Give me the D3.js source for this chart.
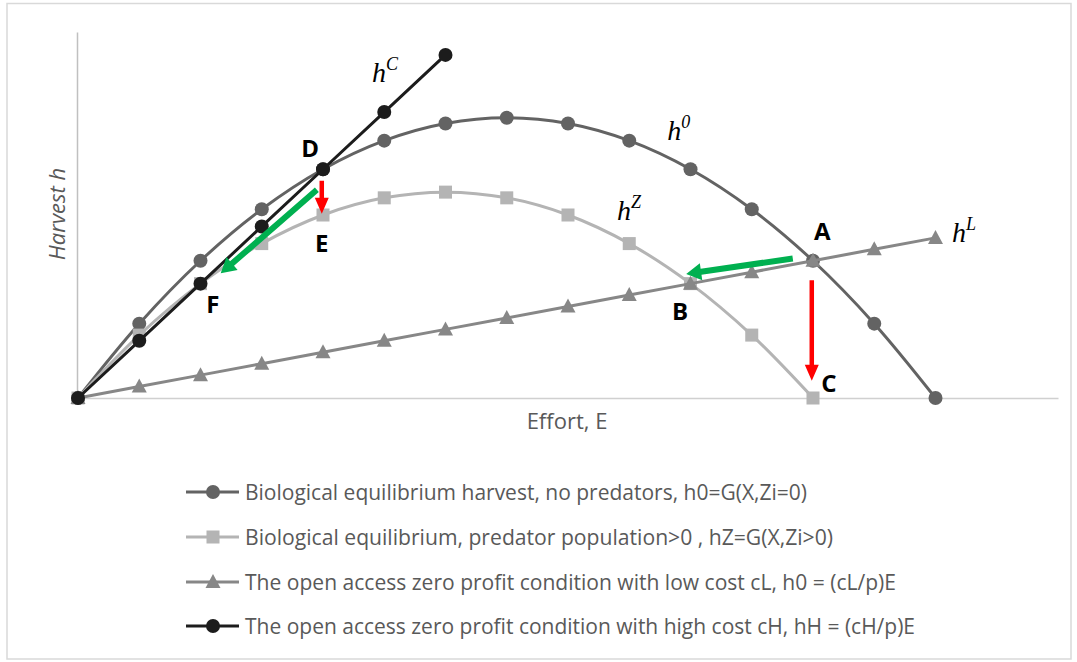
<!DOCTYPE html>
<html>
<head>
<meta charset="utf-8">
<script src="https://cdn.jsdelivr.net/npm/d3@7"></script>
<style>
  html, body { margin: 0; padding: 0; background: #fff; }
  svg { display: block; }
</style>
</head>
<body>
<svg id="chart" width="1077" height="662"></svg>
<script>
// ---------------- data ----------------
const effortMax = 16;
const h0Effort = [0,1,2,3,4,5,6,7,8,9,10,11,12,13,14];
const h0Values = [0,13,24,33,40,45,48,49,48,45,40,33,24,13,0];
const hZEffort = [0,1,2,3,4,5,6,7,8,9,10,11,12];
const hZValues = [0,11,20,27,32,35,36,35,32,27,20,11,0];
const hLEffort = [0,1,2,3,4,5,6,7,8,9,10,11,12,13,14];
const hLValues = [0,2,4,6,8,10,12,14,16,18,20,22,24,26,28];
const hCEffort = [0,1,2,3,4,5,6];
const hCValues = [0,10,20,30,40,50,60];
const yMax = 64;

const legendLabels = [
  "Biological equilibrium harvest, no predators, h0=G(X,Zi=0)",
  "Biological equilibrium,  predator population>0 , hZ=G(X,Zi>0)",
  "The open access zero profit condition with low cost cL, h0 = (cL/p)E",
  "The open access zero profit condition with high cost cH, hH = (cH/p)E"
];
const xTitle = "Effort, E";
const yTitle = "Harvest h";

// point labels [text, E, h]
const pointLabels = [
  ["D", 3.79, 43.7], ["E", 3.98, 27.1], ["F", 2.20, 16.3],
  ["A", 12.15, 29.2], ["B", 9.83, 15.2], ["C", 12.26, 2.6]
];
// curve labels [base, sup, E, h]
const curveLabels = [
  ["h", "C", 4.80, 55.3], ["h", "0", 9.62, 45.1],
  ["h", "Z", 8.80, 31.1], ["h", "L", 14.27, 27.3]
];
// arrows [E0, h0, E1, h1, kind]
const arrows = [
  [11.67, 24.4, 9.93, 21.7, "green"],
  [3.90, 36.4, 2.33, 21.8, "green"],
  [3.98, 38.0, 3.98, 32.2, "red"],
  [11.98, 20.6, 11.98, 3.0, "red"]
];

// ---------------- layout ----------------
const svg = d3.select("#chart");
const x = d3.scaleLinear().domain([0, effortMax]).range([78, 1058]);
const y = d3.scaleLinear().domain([0, yMax]).range([398, 32]);

// outer border
svg.append("rect").attr("x", 7).attr("y", 3.5).attr("width", 1064).attr("height", 655.5)
  .attr("fill", "#fff").attr("stroke", "#d9d9d9").attr("stroke-width", 1.5);

// axes
const xAxis = d3.axisBottom(x).tickValues([]).tickSize(0).tickSizeOuter(0);
svg.append("g").attr("transform", `translate(0,${y(0)})`).call(xAxis)
  .select(".domain").attr("stroke", "#d0d0d0").attr("stroke-width", 1.5);
const yAxis = d3.axisLeft(y).tickValues([]).tickSize(0).tickSizeOuter(0);
svg.append("g").attr("transform", `translate(${x(0) - 1},0)`).call(yAxis)
  .select(".domain").attr("stroke", "#c0c0c0").attr("stroke-width", 1.5);

svg.append("text").attr("x", 567).attr("y", 429).attr("text-anchor", "middle")
  .attr("font-family", "'Open Sans', sans-serif").attr("font-size", 22)
  .attr("fill", "#595959").text(xTitle);
svg.append("text").attr("transform", "translate(65,214) rotate(-90)").attr("text-anchor", "middle")
  .attr("font-family", "'Open Sans', sans-serif").attr("font-size", 22)
  .attr("font-style", "italic").attr("fill", "#595959").text(yTitle);

// series
const series = [
  { E: h0Effort, v: h0Values, color: "#636363", marker: "circle", curve: d3.curveCatmullRom.alpha(0.5), w: 3 },
  { E: hZEffort, v: hZValues, color: "#b4b4b4", marker: "square", curve: d3.curveCatmullRom.alpha(0.5), w: 3 },
  { E: hLEffort, v: hLValues, color: "#878787", marker: "triangle", curve: d3.curveLinear, w: 3 },
  { E: hCEffort, v: hCValues, color: "#1c1c1c", marker: "circle", curve: d3.curveLinear, w: 3 }
];

function drawMarker(g, type, cx, cy, color) {
  if (type === "circle") {
    g.append("circle").attr("cx", cx).attr("cy", cy).attr("r", 7).attr("fill", color);
  } else if (type === "square") {
    g.append("rect").attr("x", cx - 6.5).attr("y", cy - 6.5).attr("width", 13).attr("height", 13).attr("fill", color);
  } else {
    g.append("path").attr("d", `M${cx},${cy - 8}L${cx + 7.5},${cy + 6}L${cx - 7.5},${cy + 6}Z`).attr("fill", color);
  }
}

series.forEach(s => {
  const pts = s.E.map((e, i) => [x(e), y(s.v[i])]);
  svg.append("path").attr("d", d3.line().curve(s.curve)(pts))
    .attr("fill", "none").attr("stroke", s.color).attr("stroke-width", s.w)
    .attr("stroke-linejoin", "round").attr("stroke-linecap", "round");
  const g = svg.append("g");
  pts.forEach(p => drawMarker(g, s.marker, p[0], p[1], s.color));
});

// arrows
function arrowPath(x0, y0, x1, y1, shaft, headW, headL) {
  const dx = x1 - x0, dy = y1 - y0, L = Math.hypot(dx, dy);
  const ux = dx / L, uy = dy / L, nx = -uy, ny = ux;
  const bx = x1 - ux * headL, by = y1 - uy * headL;
  const pts = [
    [x0 + nx * shaft / 2, y0 + ny * shaft / 2],
    [bx + nx * shaft / 2, by + ny * shaft / 2],
    [bx + nx * headW / 2, by + ny * headW / 2],
    [x1, y1],
    [bx - nx * headW / 2, by - ny * headW / 2],
    [bx - nx * shaft / 2, by - ny * shaft / 2],
    [x0 - nx * shaft / 2, y0 - ny * shaft / 2]
  ];
  return "M" + pts.map(p => p.join(",")).join("L") + "Z";
}
arrows.forEach(a => {
  const green = a[4] === "green";
  svg.append("path")
    .attr("d", arrowPath(x(a[0]), y(a[1]), x(a[2]), y(a[3]), green ? 6 : 4.5, green ? 17 : 14, green ? 15 : 16))
    .attr("fill", green ? "#00b050" : "#ff0000");
});

// point labels
pointLabels.forEach(l => {
  svg.append("text").attr("x", x(l[1])).attr("y", y(l[2])).attr("dy", "0.36em")
    .attr("text-anchor", "middle").attr("font-family", "'Open Sans', sans-serif")
    .attr("font-weight", "bold").attr("font-size", 24).attr("fill", "#000").text(l[0]);
});

// curve labels
curveLabels.forEach(l => {
  const t = svg.append("text").attr("x", x(l[2])).attr("y", y(l[3]))
    .attr("font-family", "'Liberation Serif', 'Times New Roman', serif")
    .attr("font-style", "italic").attr("font-size", 28).attr("fill", "#000");
  t.append("tspan").text(l[0]);
  t.append("tspan").attr("dy", -12).attr("font-size", 18).text(l[1]);
});

// legend
const legendY = [492, 537, 582, 626];
const legendEnd = [807, 833, 896, 915];
legendLabels.forEach((lab, i) => {
  const s = series[i];
  const g = svg.append("g");
  g.append("line").attr("x1", 186).attr("x2", 239).attr("y1", legendY[i]).attr("y2", legendY[i])
    .attr("stroke", s.color).attr("stroke-width", 3);
  drawMarker(g, s.marker, 213, legendY[i], s.color);
  g.append("text").attr("x", 245).attr("y", legendY[i]).attr("dy", "0.36em")
    .attr("font-family", "'Open Sans', sans-serif").attr("font-size", 21)
    .attr("fill", "#595959")
    .attr("textLength", legendEnd[i] - 245).attr("lengthAdjust", "spacingAndGlyphs")
    .text(lab);
});
</script>
</body>
</html>
